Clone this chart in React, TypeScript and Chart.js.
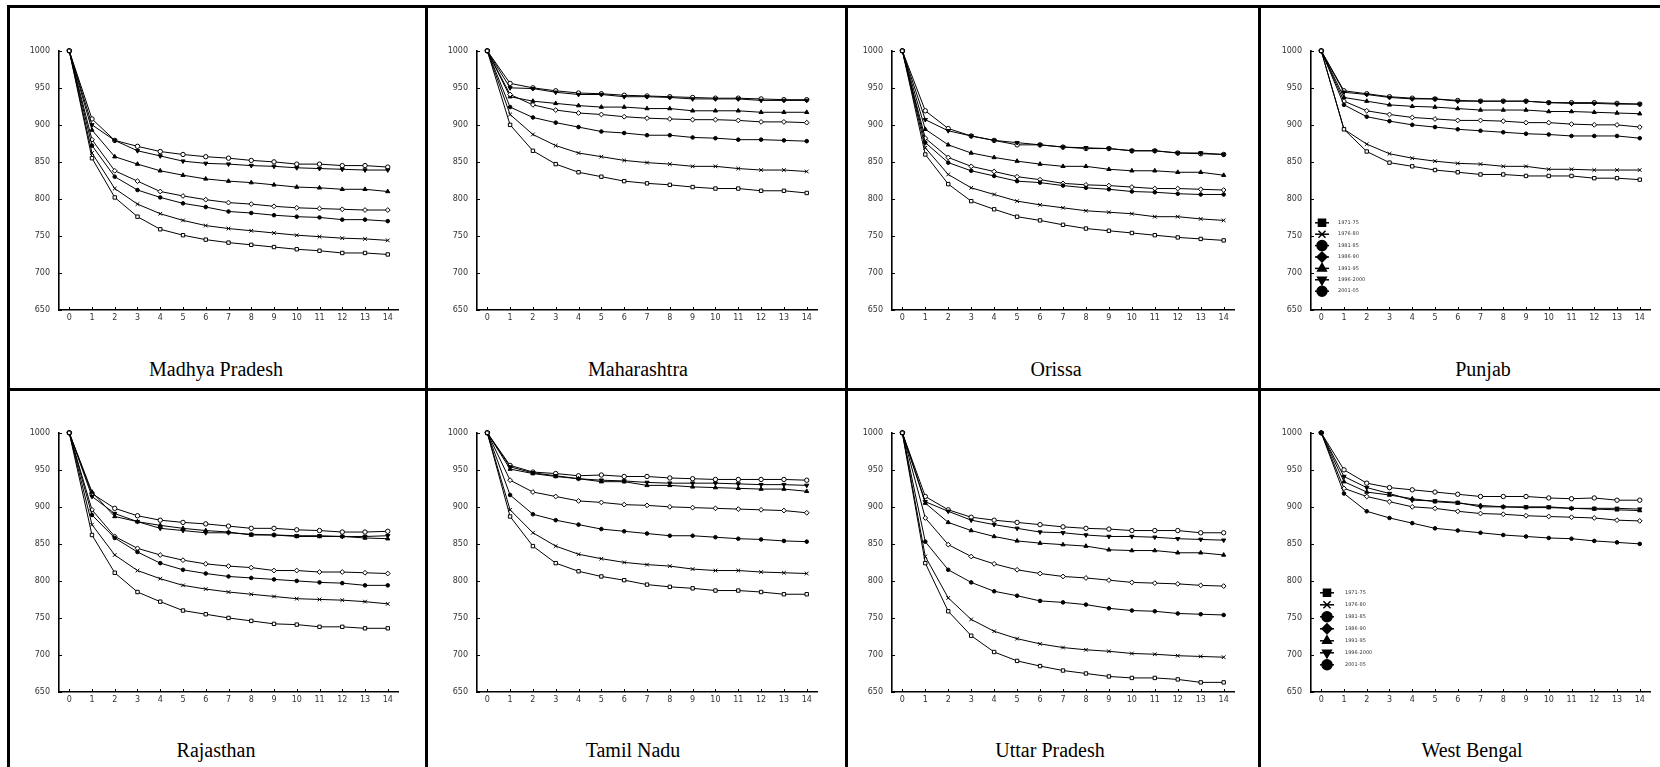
import React, { useEffect, useRef } from 'react';
import { Chart, registerables } from 'chart.js';
import { drawPoint } from 'chart.js/helpers';

Chart.register(...registerables);

// ---------- data ----------
const ages = [0, 1, 2, 3, 4, 5, 6, 7, 8, 9, 10, 11, 12, 13, 14];
const yTickValues = [650, 700, 750, 800, 850, 900, 950, 1000];
const periods = ['1971-75', '1976-80', '1981-85', '1986-90', '1991-95', '1996-2000', '2001-05'];
const pointStyles = ['rect', 'crossRot', 'circle', 'rectRot', 'triangle', 'triangle', 'circle'];
const pointRotations = [0, 0, 0, 0, 0, 180, 0];
const pointFilled = [false, true, true, false, true, true, false];
const pointSizes = [2.4, 2.6, 1.8, 2.4, 2.4, 2.4, 2.2];

const madhyaPradesh = [
  [1000, 855, 802, 776, 759, 751, 745, 741, 738, 735, 732, 730, 727, 727, 725],
  [1000, 862, 814, 793, 780, 771, 764, 760, 757, 754, 751, 749, 747, 746, 744],
  [1000, 872, 830, 812, 802, 794, 789, 783, 781, 778, 776, 775, 772, 772, 770],
  [1000, 880, 838, 824, 810, 804, 799, 795, 793, 790, 788, 787, 786, 785, 785],
  [1000, 893, 857, 847, 838, 832, 827, 824, 822, 819, 816, 815, 813, 813, 810],
  [1000, 900, 879, 865, 858, 851, 848, 847, 845, 844, 842, 841, 840, 839, 839],
  [1000, 908, 879, 871, 864, 860, 857, 855, 852, 850, 847, 847, 845, 845, 843],
];
const maharashtra = [
  [1000, 900, 865, 847, 836, 830, 824, 821, 819, 816, 814, 814, 811, 811, 808],
  [1000, 914, 887, 872, 862, 857, 852, 849, 847, 844, 844, 841, 839, 839, 837],
  [1000, 924, 910, 903, 897, 891, 889, 886, 886, 883, 882, 880, 880, 879, 878],
  [1000, 941, 927, 920, 916, 914, 911, 909, 908, 907, 907, 906, 904, 904, 903],
  [1000, 938, 932, 929, 926, 924, 924, 922, 922, 919, 919, 919, 917, 917, 917],
  [1000, 950, 949, 944, 941, 941, 938, 938, 937, 935, 935, 935, 933, 933, 933],
  [1000, 956, 950, 946, 943, 942, 940, 939, 938, 937, 936, 936, 935, 934, 934],
];
const orissa = [
  [1000, 860, 820, 797, 786, 776, 771, 765, 760, 757, 754, 751, 748, 746, 744],
  [1000, 869, 833, 815, 806, 797, 792, 788, 784, 782, 780, 776, 776, 773, 771],
  [1000, 876, 849, 838, 831, 824, 822, 818, 815, 813, 810, 809, 807, 806, 806],
  [1000, 882, 856, 844, 837, 830, 826, 821, 819, 818, 816, 814, 814, 813, 812],
  [1000, 894, 873, 862, 856, 851, 847, 844, 844, 840, 838, 838, 836, 836, 832],
  [1000, 907, 892, 885, 879, 876, 873, 870, 869, 868, 865, 865, 862, 862, 860],
  [1000, 919, 895, 885, 879, 873, 873, 870, 868, 868, 865, 865, 862, 861, 860],
];
const punjab = [
  [1000, 894, 864, 849, 844, 839, 836, 833, 833, 831, 831, 831, 828, 828, 826],
  [1000, 894, 874, 861, 855, 851, 848, 847, 844, 844, 840, 840, 839, 839, 839],
  [1000, 927, 911, 905, 900, 897, 894, 892, 890, 888, 887, 885, 885, 885, 882],
  [1000, 932, 919, 914, 910, 908, 906, 906, 905, 903, 903, 901, 900, 900, 897],
  [1000, 937, 932, 927, 925, 924, 922, 920, 920, 920, 918, 918, 917, 916, 915],
  [1000, 944, 941, 937, 935, 935, 932, 932, 932, 932, 930, 929, 929, 928, 928],
  [1000, 946, 942, 938, 936, 935, 933, 932, 932, 932, 930, 930, 930, 929, 928],
];
const rajasthan = [
  [1000, 862, 811, 785, 772, 760, 755, 750, 746, 742, 741, 738, 738, 736, 736],
  [1000, 876, 835, 814, 803, 794, 789, 785, 782, 779, 776, 775, 774, 772, 769],
  [1000, 889, 858, 839, 824, 815, 810, 806, 804, 802, 800, 798, 797, 794, 794],
  [1000, 896, 860, 844, 835, 828, 823, 820, 818, 814, 814, 812, 812, 811, 810],
  [1000, 920, 887, 880, 875, 871, 868, 866, 862, 862, 860, 860, 860, 858, 857],
  [1000, 914, 891, 880, 871, 868, 865, 865, 863, 862, 861, 861, 860, 860, 861],
  [1000, 918, 898, 888, 882, 879, 877, 874, 871, 871, 869, 868, 866, 866, 867],
];
const tamilNadu = [
  [1000, 887, 847, 824, 813, 806, 801, 795, 792, 790, 787, 787, 785, 782, 782],
  [1000, 896, 865, 847, 836, 830, 825, 822, 820, 816, 814, 814, 812, 811, 810],
  [1000, 916, 890, 882, 876, 870, 867, 864, 861, 861, 859, 857, 856, 854, 853],
  [1000, 936, 920, 914, 908, 906, 903, 902, 900, 899, 898, 897, 896, 895, 892],
  [1000, 951, 945, 941, 938, 934, 934, 929, 929, 927, 926, 925, 924, 924, 921],
  [1000, 954, 946, 942, 938, 936, 935, 933, 932, 932, 932, 931, 930, 930, 929],
  [1000, 956, 947, 945, 942, 943, 941, 941, 939, 938, 937, 937, 937, 937, 936],
];
const uttarPradesh = [
  [1000, 824, 759, 726, 704, 692, 685, 679, 675, 671, 669, 669, 667, 663, 663],
  [1000, 833, 777, 748, 732, 722, 715, 710, 707, 705, 702, 701, 699, 698, 697],
  [1000, 853, 815, 798, 786, 780, 773, 771, 768, 763, 760, 759, 756, 755, 754],
  [1000, 885, 849, 833, 823, 815, 810, 806, 804, 801, 798, 797, 796, 794, 793],
  [1000, 905, 879, 868, 860, 854, 851, 849, 847, 842, 841, 841, 838, 838, 835],
  [1000, 907, 894, 882, 876, 871, 866, 865, 862, 860, 860, 859, 857, 856, 855],
  [1000, 914, 896, 886, 882, 879, 876, 873, 871, 870, 868, 868, 868, 865, 865],
];
const westBengal = [
  [],
  [],
  [1000, 918, 894, 885, 878, 871, 868, 865, 862, 860, 858, 857, 854, 852, 850],
  [1000, 925, 914, 907, 900, 898, 894, 891, 890, 888, 887, 886, 885, 882, 881],
  [1000, 934, 920, 916, 911, 907, 905, 902, 900, 899, 899, 898, 897, 896, 895],
  [1000, 941, 926, 918, 909, 908, 906, 900, 900, 900, 900, 898, 898, 898, 897],
  [1000, 950, 932, 926, 923, 920, 917, 914, 914, 914, 912, 911, 912, 909, 909],
];

// ---------- layout ----------
const rowTop = [49, 431];
const rowBottom = [310, 692];
const colAxisLeft = [59, 477, 892, 1311];
const colAxisRight = [398, 817, 1234, 1650];

type LegendPos = { dx: number; dy: number; gap: number; textDx: number } | null;
type PanelCfg = {
  title: string;
  series: number[][];
  row: number;
  col: number;
  titleX: number;
  legend: LegendPos;
};

const panels: PanelCfg[] = [
  { title: 'Madhya Pradesh', series: madhyaPradesh, row: 0, col: 0, titleX: 216, legend: null },
  { title: 'Maharashtra', series: maharashtra, row: 0, col: 1, titleX: 638, legend: null },
  { title: 'Orissa', series: orissa, row: 0, col: 2, titleX: 1056, legend: null },
  { title: 'Punjab', series: punjab, row: 0, col: 3, titleX: 1483, legend: { dx: 11, dy: 172, gap: 11.4, textDx: 16 } },
  { title: 'Rajasthan', series: rajasthan, row: 1, col: 0, titleX: 216, legend: null },
  { title: 'Tamil Nadu', series: tamilNadu, row: 1, col: 1, titleX: 633, legend: null },
  { title: 'Uttar Pradesh', series: uttarPradesh, row: 1, col: 2, titleX: 1050, legend: null },
  { title: 'West Bengal', series: westBengal, row: 1, col: 3, titleX: 1472, legend: { dx: 16, dy: 160, gap: 12, textDx: 18 } },
];
const titleCenterY = [369, 750];

const Y_AXIS_W = 50;
const PAD_TOP = 12;
const PAD_RIGHT = 10;
const X_AXIS_H = 20;

const inwardTicks = {
  id: 'inwardTicks',
  afterDatasetsDraw(chart: any) {
    const { ctx, chartArea, scales } = chart;
    ctx.save();
    ctx.strokeStyle = '#000';
    ctx.lineWidth = 1;
    scales.x.ticks.forEach((t: any) => {
      const px = Math.round(scales.x.getPixelForValue(t.value)) + 0.5;
      ctx.beginPath();
      ctx.moveTo(px, chartArea.bottom);
      ctx.lineTo(px, chartArea.bottom - 3);
      ctx.stroke();
    });
    scales.y.ticks.forEach((t: any) => {
      const py = Math.round(scales.y.getPixelForValue(t.value)) + 0.5;
      ctx.beginPath();
      ctx.moveTo(chartArea.left, py);
      ctx.lineTo(chartArea.left + 3, py);
      ctx.stroke();
    });
    ctx.restore();
  },
};

function makeLegendPlugin(lg: LegendPos) {
  return {
    id: 'areaLegend',
    afterDatasetsDraw(chart: any) {
      if (!lg) return;
      const { ctx, chartArea } = chart;
      chart.data.datasets.forEach((ds: any, i: number) => {
        const x = chartArea.left + lg.dx;
        const y = chartArea.top + lg.dy + i * lg.gap;
        ctx.save();
        ctx.strokeStyle = '#000';
        ctx.fillStyle = '#000';
        ctx.lineWidth = 1.5;
        ctx.beginPath();
        ctx.moveTo(x - 7, y);
        ctx.lineTo(x + 7, y);
        ctx.stroke();
        drawPoint(ctx, { pointStyle: ds.pointStyle, rotation: ds.pointRotation || 0, radius: 5, borderWidth: 1.5 } as any, x, y);
        ctx.font = '5px "DejaVu Sans"';
        ctx.textBaseline = 'middle';
        ctx.textAlign = 'left';
        ctx.fillStyle = '#333';
        ctx.fillText(ds.label, x + lg.textDx, y);
        ctx.restore();
      });
    },
  };
}

function Panel({ cfg }: { cfg: PanelCfg }) {
  const ref = useRef<HTMLCanvasElement>(null);
  const axisLeft = colAxisLeft[cfg.col];
  const axisRight = colAxisRight[cfg.col];
  const top = rowTop[cfg.row];
  const bottom = rowBottom[cfg.row];
  const left = axisLeft - Y_AXIS_W;
  const canvasTop = top - PAD_TOP;
  const w = axisRight - axisLeft + Y_AXIS_W + PAD_RIGHT;
  const h = bottom - top + PAD_TOP + X_AXIS_H;

  useEffect(() => {
    const datasets = cfg.series.map((vals, i) => ({
      label: periods[i],
      data: vals.map((v, j) => ({ x: ages[j], y: v })),
      borderColor: '#000',
      borderWidth: 1,
      tension: 0,
      pointStyle: pointStyles[i],
      pointRotation: pointRotations[i],
      pointRadius: pointSizes[i],
      pointBorderWidth: 1,
      pointBorderColor: '#000',
      pointBackgroundColor: pointFilled[i] ? '#000' : '#fff',
      clip: false as any,
    }));
    const chart = new Chart(ref.current!, {
      type: 'line',
      data: { datasets },
      options: {
        animation: false,
        responsive: false,
        events: [],
        layout: { padding: { top: PAD_TOP, right: PAD_RIGHT, left: 0, bottom: 0 } },
        plugins: { legend: { display: false }, tooltip: { enabled: false } },
        scales: {
          x: {
            type: 'linear',
            min: -0.45,
            max: 14.45,
            afterBuildTicks: (s: any) => {
              s.ticks = ages.map((v) => ({ value: v }));
            },
            afterFit: (s: any) => {
              s.height = X_AXIS_H;
            },
            grid: { display: false, drawTicks: false },
            border: { display: true, color: '#000', width: 1.6 },
            ticks: {
              autoSkip: false,
              maxRotation: 0,
              padding: 3,
              color: '#333',
              font: { family: 'DejaVu Sans', size: 8 },
              callback: (v: any) => String(v),
            },
          },
          y: {
            type: 'linear',
            min: 650,
            max: 1000,
            afterBuildTicks: (s: any) => {
              s.ticks = yTickValues.map((v) => ({ value: v }));
            },
            afterFit: (s: any) => {
              s.width = Y_AXIS_W;
            },
            grid: { display: false, drawTicks: false },
            border: { display: true, color: '#000', width: 1.6 },
            ticks: {
              padding: 9,
              color: '#333',
              font: { family: 'DejaVu Sans', size: 8 },
              callback: (v: any) => String(v),
            },
          },
        },
      },
      plugins: [inwardTicks, makeLegendPlugin(cfg.legend)],
    });
    return () => chart.destroy();
  }, []);

  return (
    <canvas
      ref={ref}
      width={w}
      height={h}
      style={{ position: 'absolute', left, top: canvasTop, width: w, height: h }}
    />
  );
}

const lineStyle = (l: number, t: number, w: number, h: number): React.CSSProperties => ({
  position: 'absolute',
  left: l,
  top: t,
  width: w,
  height: h,
  background: '#000',
});

export default function App() {
  return (
    <div
      style={{
        position: 'fixed',
        left: 0,
        top: 0,
        width: 1660,
        height: 767,
        background: '#fff',
        overflow: 'hidden',
      }}
    >
      {panels.map((p) => (
        <Panel key={p.title} cfg={p} />
      ))}
      {panels.map((p) => (
        <div
          key={p.title + '-t'}
          style={{
            position: 'absolute',
            left: p.titleX - 150,
            width: 300,
            top: titleCenterY[p.row] - 12,
            height: 24,
            lineHeight: '24px',
            textAlign: 'center',
            fontFamily: "'Times New Roman', 'Liberation Serif', serif",
            fontSize: 20,
            color: '#000',
          }}
        >
          {p.title}
        </div>
      ))}
      <div style={lineStyle(7, 5, 1653, 3)} />
      <div style={lineStyle(7, 5, 3, 762)} />
      <div style={lineStyle(425, 5, 3, 762)} />
      <div style={lineStyle(845, 5, 3, 762)} />
      <div style={lineStyle(1258, 5, 3, 762)} />
      <div style={lineStyle(7, 388, 1653, 3)} />
    </div>
  );
}
